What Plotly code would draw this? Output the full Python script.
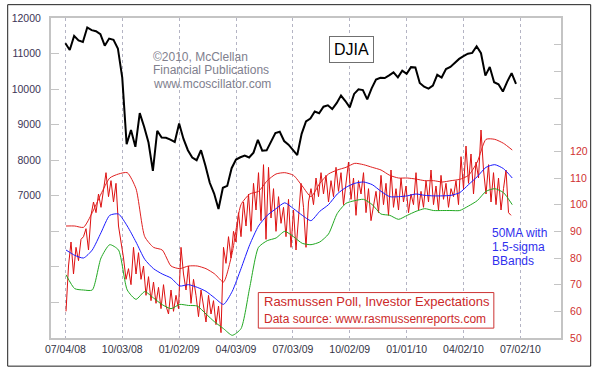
import pandas as pd
import plotly.graph_objects as go

# ---------------- data ----------------
djia_dates = pd.date_range("2008-07-04", periods=104, freq="7D")
djia = [
    11288, 11100, 11497, 11370, 11326, 11734, 11659, 11628, 11543, 11220, 11421, 11388, 11143,
    10325, 8451, 8852, 8378, 9325, 8943, 8497, 7700, 8829, 8635, 8629, 8579, 8515,
    9034, 8599, 8281, 8077, 8000, 8280, 7850, 7366, 7062, 6627, 7224, 7278, 7776,
    8018, 8083, 8131, 8076, 8212, 8575, 8268, 8277, 8500, 8764, 8799, 8540, 8438,
    8280, 8146, 8743, 9093, 9171, 9370, 9321, 9505, 9544, 9441, 9605, 9820, 9665,
    9487, 9865, 9995, 9972, 9713, 10023, 10270, 10318, 10310, 10388, 10471, 10329, 10520,
    10428, 10618, 10610, 10173, 10067, 10012, 10099, 10402, 10325, 10566, 10625, 10742, 10850,
    10927, 10997, 11019, 11204, 11009, 10380, 10620, 10193, 10137, 9932, 10212, 10450, 10144,
]

ras_dates = pd.date_range("2008-07-05", periods=179, freq="4D")
rasmussen = [
    60, 77, 86, 74, 84, 79, 87,
    88, 91, 83, 96,
    101, 97, 104, 99, 106,
    112, 103, 109, 101, 108,
    92, 86, 80, 72, 76,
    70, 84, 74, 82, 72, 77, 66, 73, 64, 71, 63, 69, 61, 70, 62, 59, 68, 60, 66, 61, 84, 74, 68, 77, 63, 72, 66,
    58, 68, 62, 56, 66, 59, 64, 55, 62, 52,
    84, 78, 88, 80, 90, 86, 97, 88, 101, 92, 104, 90, 108, 98, 112, 94, 115, 87, 114, 95,
    106, 90, 103, 93, 99, 88, 102, 84, 98, 83, 95, 108, 99, 84, 101, 106, 100, 110, 103, 112,
    104, 111, 101, 109, 103,
    114, 105, 112, 100, 108, 116, 102, 110, 96, 109, 104, 112, 97, 106, 94, 99, 105, 97, 111, 100,
    108, 96, 113, 99, 106, 98, 110, 101, 107, 97, 104, 100, 112, 98, 105, 99, 109, 101, 113, 100,
    107, 98, 111, 102, 108, 99, 106, 103, 109, 100,
    118, 106, 122, 108, 119, 104, 116, 110, 128, 113, 104, 115, 101, 112, 100, 110, 98, 106, 113, 97, 96,
]

band_dates = pd.date_range("2008-07-05", periods=52, freq="14D")
upper_band = [
    92, 92, 91.5, 97, 104, 110, 111.5, 112, 106, 88, 84, 83, 77, 76, 77, 77, 76, 74, 71, 82,
    100, 104, 105, 109, 111.5, 112, 111, 107, 103, 108, 111.5, 113, 114, 115.5, 115, 114, 113, 111, 110, 110,
    109.6, 109, 109, 108.5, 109, 109.5, 111, 116, 124.5, 124.5, 123, 120.5,
]
ma50 = [
    83, 81, 80, 83, 89.5, 96, 96.5, 92, 86, 79.5, 76, 74, 72.5, 69.5, 70, 69, 67.5, 65, 62.6, 67.5,
    76, 85, 92, 96, 98.5, 100.7, 98.5, 96, 94, 97.5, 100, 104, 106.5, 108, 108.5, 107.5, 105, 103, 103, 103.3,
    104, 103.5, 103.3, 103.3, 103.5, 104.5, 107.5, 110.5, 114, 115, 113.5, 110,
]
lower_band = [
    73.7, 68.5, 68, 68, 80, 85, 83, 68, 64.5, 67.4, 65, 62.5, 61, 62.6, 62.2, 62, 59, 56, 53.5, 51,
    53.5, 69, 84, 86.5, 87.5, 90, 88, 85.5, 85, 86, 89, 96.7, 100.5, 101.5, 102, 100, 96.5, 96, 94.5, 96,
    97.5, 98.5, 97.8, 97.8, 97.8, 97.8, 99.5, 101.5, 105, 106, 104.5, 100,
]

x_tick_vals = ["2008-07-04", "2008-10-03", "2009-01-02", "2009-04-03", "2009-07-03",
               "2009-10-02", "2010-01-01", "2010-04-02", "2010-07-02"]
x_tick_text = ["07/04/08", "10/03/08", "01/02/09", "04/03/09", "07/03/09",
               "10/02/09", "01/01/10", "04/02/10", "07/02/10"]
left_tick_vals = list(range(3000, 12001, 1000))
left_tick_text = [str(v) if v >= 7000 else "" for v in left_tick_vals]
right_tick_vals = list(range(50, 171, 10))
right_tick_text = [str(v) if v <= 120 else "" for v in right_tick_vals]

# ---------------- figure ----------------
FONT = "Liberation Sans, Arial, sans-serif"
fig = go.Figure()

fig.add_trace(go.Scatter(x=ras_dates, y=rasmussen, yaxis="y2", mode="lines",
                         line=dict(color="#dd1010", width=1), hoverinfo="skip"))
fig.add_trace(go.Scatter(x=band_dates, y=upper_band, yaxis="y2", mode="lines",
                         line=dict(color="#e02020", width=1, shape="spline", smoothing=0.6)))
fig.add_trace(go.Scatter(x=band_dates, y=lower_band, yaxis="y2", mode="lines",
                         line=dict(color="#22a822", width=1, shape="spline", smoothing=0.6)))
fig.add_trace(go.Scatter(x=band_dates, y=ma50, yaxis="y2", mode="lines",
                         line=dict(color="#1a1aff", width=1, shape="spline", smoothing=0.6)))
fig.add_trace(go.Scatter(x=djia_dates, y=djia, yaxis="y", mode="lines",
                         line=dict(color="#000000", width=2)))

L, R, T, B = 45, 31, 14, 29
W, H = 600, 367
pw, ph = W - L - R, H - T - B


def px(x):
    return (x - L) / pw


def py(y):
    return (H - B - y) / ph


fig.update_layout(
    width=W, height=H,
    margin=dict(l=L, r=R, t=T, b=B, pad=0),
    paper_bgcolor="white", plot_bgcolor="white",
    showlegend=False,
    font=dict(family=FONT, size=11, color="#333344"),
    xaxis=dict(
        type="date", range=["2008-06-11", "2010-09-05"],
        tickvals=x_tick_vals, ticktext=x_tick_text,
        showgrid=True, gridcolor="#b4b4c4", griddash="dot", gridwidth=1,
        showline=True, mirror=True, linecolor="#c4c4c4", linewidth=2,
        ticks="", tickfont=dict(size=10.5, color="#333344"),
        zeroline=False,
    ),
    yaxis=dict(
        range=[3000, 12000], tickvals=left_tick_vals, ticktext=left_tick_text,
        showgrid=False, zeroline=False,
        showline=True, linecolor="#c4c4c4", linewidth=2,
        ticks="inside", ticklen=8, tickcolor="#c4c4c4", tickwidth=1,
        tickfont=dict(size=10.5, color="#3c3456"), ticklabelstandoff=6,
    ),
    yaxis2=dict(
        range=[50, 170], overlaying="y", side="right",
        tickvals=right_tick_vals, ticktext=right_tick_text,
        showgrid=False, zeroline=False,
        showline=True, linecolor="#c4c4c4", linewidth=2,
        ticks="inside", ticklen=7, tickcolor="#c4c4c4", tickwidth=1,
        tickfont=dict(size=10.5, color="#d03030"), ticklabelstandoff=5,
    ),
)

shapes = [
    # outer image border
    dict(type="rect", xref="paper", yref="paper",
         x0=px(0.5), x1=px(599.5), y0=py(366.5), y1=py(0.5),
         line=dict(color="#202020", width=1)),
    # Rasmussen legend box
    dict(type="rect", xref="paper", yref="paper",
         x0=px(258), x1=px(500), y0=py(328), y1=py(292),
         line=dict(color="#cc3333", width=1), fillcolor="white", layer="above"),
]
fig.update_layout(shapes=shapes)

ann = []
for txt, y in [("©2010, McClellan", 53), ("Financial Publications", 67), ("www.mcoscillator.com", 81)]:
    ann.append(dict(text=txt, x=px(148), y=py(y), xref="paper", yref="paper",
                    xanchor="left", yanchor="middle", showarrow=False,
                    font=dict(family=FONT, size=12, color="#80808e")))
ann.append(dict(text="DJIA", x=px(353.5), y=py(45.5), xref="paper", yref="paper",
                xanchor="center", yanchor="middle", showarrow=False,
                font=dict(family=FONT, size=16, color="#000000"),
                bordercolor="#707070", borderwidth=1, borderpad=4, bgcolor="white"))
ann.append(dict(text="Rasmussen Poll, Investor Expectations", x=px(262), y=py(301.5),
                xref="paper", yref="paper", xanchor="left", yanchor="middle", showarrow=False,
                font=dict(family=FONT, size=13, color="#cc2a2a")))
ann.append(dict(text="Data source: www.rasmussenreports.com", x=px(262), y=py(318.5),
                xref="paper", yref="paper", xanchor="left", yanchor="middle", showarrow=False,
                font=dict(family=FONT, size=12, color="#cc2a2a")))
for txt, y in [("50MA with", 232), ("1.5-sigma", 246), ("BBands", 260)]:
    ann.append(dict(text=txt, x=px(496), y=py(y), xref="paper", yref="paper",
                    xanchor="left", yanchor="middle", showarrow=False,
                    font=dict(family=FONT, size=12, color="#3030ee")))
fig.update_layout(annotations=ann)

fig.write_html("out.html",
               config={"displayModeBar": False},
               post_script="document.body.style.margin='0';document.body.style.padding='0';")
